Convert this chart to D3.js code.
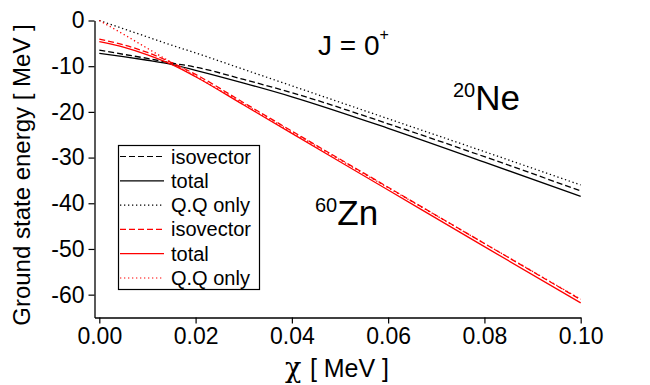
<!DOCTYPE html>
<html>
<head>
<meta charset="utf-8">
<script src="https://cdnjs.cloudflare.com/ajax/libs/d3/7.8.5/d3.min.js"></script>
<style>
  body { margin: 0; background: #fff; }
  text { font-family: "Liberation Sans", Arial, sans-serif; fill: #000; }
</style>
</head>
<body>
<div class="root"></div>
<script>
// chi values [MeV]
var chi = [0, 0.005, 0.01, 0.015, 0.02, 0.03, 0.04, 0.06, 0.08, 0.10];

// 20Ne (black)
var neIsovector = [-6.5, -7.4, -8.3, -9.3, -10.2, -12.9, -15.8, -22.6, -29.8, -37.3];
var neTotal     = [-7.2, -7.9, -8.7, -9.6, -10.9, -13.7, -16.7, -23.6, -31.0, -38.5];
var neQQ        = [0, -1.8, -3.6, -5.4, -7.1, -10.7, -14.3, -21.5, -28.7, -36.0];

// 60Zn (red)
var znIsovector = [-4.1, -5.3, -7.0, -9.2, -11.8, -18.0, -24.2, -36.5, -48.8, -61.1];
var znTotal     = [-4.6, -5.8, -7.5, -9.6, -12.3, -18.5, -24.7, -37.1, -49.5, -61.8];
var znQQ        = [0, -3.0, -6.1, -9.2, -12.2, -18.3, -24.4, -36.6, -48.8, -61.0];

var xTicks = [0, 0.02, 0.04, 0.06, 0.08, 0.10];
var yTicks = [0, -10, -20, -30, -40, -50, -60];

var legendLabels = ['isovector', 'total', 'Q.Q only', 'isovector', 'total', 'Q.Q only'];

var width = 650, height = 385;

var svg = d3.select('.root')
            .append('svg')
            .attr('width', width)
            .attr('height', height);

var x = d3.scaleLinear()
          .domain([-0.001, 0.10])
          .range([94.5, 580.7]);

var y = d3.scaleLinear()
          .domain([-65, 0])
          .range([317.5, 20.5]);

var series = [
  {vals: neIsovector, color: '#000', dash: '6,3'},
  {vals: neTotal,     color: '#000', dash: null},
  {vals: neQQ,        color: '#000', dash: '1.3,2.7'},
  {vals: znIsovector, color: '#ff0000', dash: '6,3'},
  {vals: znTotal,     color: '#ff0000', dash: null},
  {vals: znQQ,        color: '#ff0000', dash: '1.3,2.7'}
];

var line = d3.line()
             .curve(d3.curveMonotoneX)
             .x(d => x(d[0]))
             .y(d => y(d[1]));

series.forEach(function (s) {
  svg.append('path')
     .datum(chi.map((c, i) => [c, s.vals[i]]))
     .attr('d', line)
     .style('fill', 'none')
     .style('stroke', s.color)
     .style('stroke-width', 1.3)
     .style('stroke-dasharray', s.dash);
});

// axes
var minorX = d3.range(0, 0.1001, 0.01);
var minorY = d3.range(0, -65, -2);

var xAxis = svg.append('g')
               .attr('transform', 'translate(0,' + y(-65) + ')');
xAxis.call(d3.axisBottom(x).tickValues(minorX).tickSize(3).tickSizeOuter(0).tickFormat(''));
xAxis.call(d3.axisBottom(x).tickValues(xTicks).tickSize(6).tickSizeOuter(0).tickPadding(4)
             .tickFormat(d3.format('.2f')));

var yAxis = svg.append('g')
               .attr('transform', 'translate(' + x(-0.001) + ',0)');
yAxis.call(d3.axisLeft(y).tickValues(minorY).tickSize(3).tickSizeOuter(0).tickFormat(''));
yAxis.call(d3.axisLeft(y).tickValues(yTicks).tickSize(6).tickSizeOuter(0).tickPadding(4)
             .tickFormat(d => d === 0 ? '0' : '-' + Math.abs(d)));

svg.selectAll('.domain').style('stroke', '#000').style('stroke-width', 1.3);
svg.selectAll('.tick line').style('stroke', '#000').style('stroke-width', 1.2);
svg.selectAll('.tick text')
   .style('font-family', '"Liberation Sans", Arial, sans-serif')
   .style('font-size', '23px')
   .style('fill', '#000');

// axis titles
var xt = svg.append('text')
            .attr('x', 337)
            .attr('y', 377)
            .attr('text-anchor', 'middle')
            .style('font-size', '25px');
xt.append('tspan').text('\u03c7 ').style('font-family', '"DejaVu Serif", serif').style('font-size', '27px');
xt.append('tspan').text('[ MeV ]');

svg.append('text')
   .attr('transform', 'translate(30,175) rotate(-90)')
   .attr('text-anchor', 'middle')
   .style('font-size', '24px')
   .text('Ground state energy [ MeV ]');

// annotations
var jt = svg.append('text').attr('x', 318).attr('y', 55).style('font-size', '28px');
jt.append('tspan').text('J = 0');
jt.append('tspan').attr('dy', -15).style('font-size', '16px').text('+');

var ne = svg.append('text').attr('x', 453).attr('y', 110).style('font-size', '35px');
ne.append('tspan').attr('dy', -13).style('font-size', '20px').text('20');
ne.append('tspan').attr('dy', 13).text('Ne');

var zn = svg.append('text').attr('x', 315).attr('y', 225).style('font-size', '35px');
zn.append('tspan').attr('dy', -13).style('font-size', '20px').text('60');
zn.append('tspan').attr('dy', 13).text('Zn');

// legend
var legend = svg.append('g');
legend.append('rect')
      .attr('x', 118.5).attr('y', 145.5)
      .attr('width', 141).attr('height', 144)
      .style('fill', '#fff')
      .style('stroke', '#000')
      .style('stroke-width', 1.2);

series.forEach(function (s, i) {
  var ly = 156.5 + i * 24.3;
  legend.append('line')
        .attr('x1', 120).attr('x2', 164)
        .attr('y1', ly).attr('y2', ly)
        .style('stroke', s.color)
        .style('stroke-width', 1.2)
        .style('stroke-dasharray', s.dash);
  legend.append('text')
        .attr('x', 171).attr('y', ly + 7)
        .style('font-size', '20px')
        .text(legendLabels[i]);
});
</script>
</body>
</html>
